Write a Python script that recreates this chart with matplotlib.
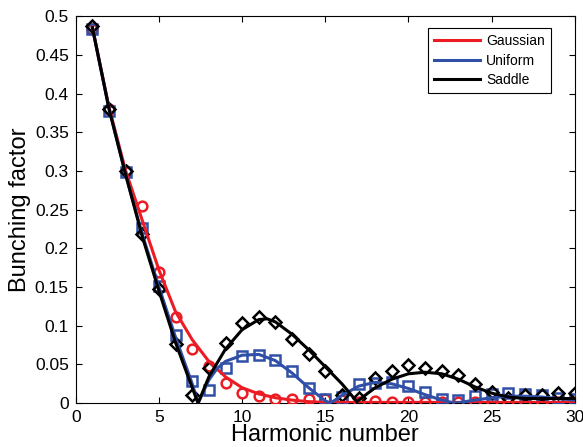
import matplotlib
matplotlib.use("Agg")
import matplotlib.pyplot as plt
from matplotlib.ticker import FuncFormatter
import numpy as np

plt.rcParams.update({
    "font.family": ["Liberation Sans", "DejaVu Sans"],
    "xtick.direction": "in", "ytick.direction": "in",
    "xtick.top": True, "ytick.right": True,
    "xtick.major.size": 4, "ytick.major.size": 4,
    "axes.linewidth": 0.8,
})

HARMONICS = np.arange(1, 31)

# simulated bunching factor at each harmonic
GAUSS_PTS = [0.483, 0.380, 0.300, 0.255, 0.170, 0.111, 0.070, 0.048, 0.026, 0.013,
             0.009, 0.006, 0.005, 0.006, 0.006, 0.004, 0.002, 0.003, 0.002, 0.002,
             0.002, 0.002, 0.002, 0.002, 0.001, 0.001, 0.001, 0.001, 0.001, 0.001]
UNIF_PTS = [0.483, 0.378, 0.298, 0.226, 0.152, 0.088, 0.029, 0.017, 0.046, 0.061,
            0.062, 0.056, 0.041, 0.020, 0.005, 0.008, 0.025, 0.026, 0.027, 0.022,
            0.015, 0.005, 0.004, 0.009, 0.012, 0.013, 0.012, 0.010, 0.007, 0.005]
SADDLE_PTS = [0.487, 0.380, 0.300, 0.219, 0.148, 0.077, 0.011, 0.046, 0.078, 0.103,
              0.111, 0.105, 0.083, 0.064, 0.041, 0.010, 0.007, 0.032, 0.042, 0.049,
              0.045, 0.041, 0.036, 0.025, 0.015, 0.007, 0.011, 0.011, 0.013, 0.013]

# theory curves
GAUSS_X = [1, 2, 3, 4, 5, 6, 7, 8, 9, 10, 11, 12, 13, 14, 15, 16, 20, 25, 30]
GAUSS_Y = [0.485, 0.382, 0.300, 0.236, 0.172, 0.118, 0.082, 0.054, 0.034, 0.020,
           0.012, 0.007, 0.004, 0.002, 0.001, 0.001, 0.001, 0.001, 0.001]
UNIF_X = [1, 2, 3, 4, 5, 6, 7, 7.35, 8, 8.5, 9, 10, 11, 12, 13, 14, 15, 15.3,
          16, 17, 18, 19, 20, 21, 22, 22.8, 24, 25, 26, 27, 28, 29, 30]
UNIF_Y = [0.485, 0.380, 0.295, 0.218, 0.150, 0.085, 0.025, 0.0, 0.030, 0.045,
          0.054, 0.062, 0.063, 0.055, 0.039, 0.020, 0.003, 0.0, 0.010, 0.022,
          0.027, 0.025, 0.019, 0.011, 0.004, 0.0, 0.004, 0.007, 0.009, 0.009,
          0.008, 0.006, 0.004]
SADDLE_X = [1, 2, 3, 4, 5, 6, 7, 7.35, 8, 9, 10, 11, 11.5, 12, 13, 14, 15, 16,
            16.9, 17.5, 18, 19, 20, 21, 22, 23, 24, 25, 26, 27, 28, 29, 30]
SADDLE_Y = [0.485, 0.380, 0.295, 0.215, 0.145, 0.078, 0.020, 0.0, 0.034, 0.070,
            0.095, 0.108, 0.109, 0.105, 0.089, 0.069, 0.047, 0.025, 0.002, 0.012,
            0.020, 0.031, 0.038, 0.040, 0.038, 0.031, 0.021, 0.013, 0.008, 0.006,
            0.006, 0.006, 0.006]

RED = "#ed1c24"
BLUE = "#3050a8"
BLACK = "#000000"

fig = plt.figure(figsize=(5.83, 4.47), dpi=100)
ax = fig.add_axes([0.130, 0.098, 0.856, 0.866])

series = [
    ("Gaussian", GAUSS_X, GAUSS_Y, GAUSS_PTS, RED, "o"),
    ("Uniform", UNIF_X, UNIF_Y, UNIF_PTS, BLUE, "s"),
    ("Saddle", SADDLE_X, SADDLE_Y, SADDLE_PTS, BLACK, "D"),
]
for name, lx, ly, pts, col, mk in series:
    ax.plot(HARMONICS, pts, linestyle="none", marker=mk, markersize=7 if mk != "D" else 6.5,
            markerfacecolor="none", markeredgecolor=col, markeredgewidth=1.8, zorder=3)
for name, lx, ly, pts, col, mk in series:
    ax.plot(lx, ly, color=col, linewidth=2.2, label=name, zorder=4)

ax.set_xlim(0, 30)
ax.set_ylim(0, 0.5)
ax.set_xticks(np.arange(0, 31, 5))
ax.set_yticks(np.arange(0, 0.501, 0.05))
ax.yaxis.set_major_formatter(FuncFormatter(lambda v, p: f"{v:g}"))
ax.tick_params(labelsize=12.5, pad=5)
ax.set_xlabel("Harmonic number", fontsize=17, labelpad=-1)
ax.set_ylabel("Bunching factor", fontsize=17, labelpad=3)

leg = ax.legend(loc="upper right", bbox_to_anchor=(0.952, 0.969), borderaxespad=0,
                fontsize=10, fancybox=False, edgecolor="black", framealpha=1,
                handlelength=3.3, handletextpad=0.4, borderpad=0.45, labelspacing=0.38)
leg.get_frame().set_linewidth(0.8)

fig.savefig("out.png", dpi=100)
